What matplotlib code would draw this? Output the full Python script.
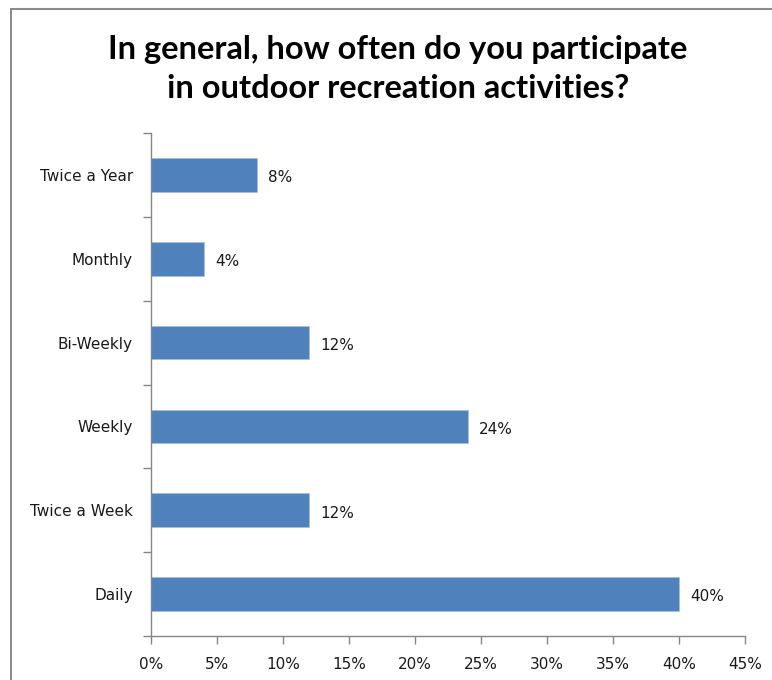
import matplotlib.pyplot as plt
from matplotlib.patches import Rectangle

# Survey responses, bottom to top
categories = ['Daily', 'Twice a Week', 'Weekly', 'Bi-Weekly', 'Monthly', 'Twice a Year']
percentages = [40, 12, 24, 12, 4, 8]
x_ticks = [0, 5, 10, 15, 20, 25, 30, 35, 40, 45]

bar_color = '#4F81BD'
axis_color = '#868686'
text_color = '#1a1a1a'

fig = plt.figure(figsize=(7.72, 6.8), dpi=100)
W, H = 772, 680

# grey chart frame
fig.patches.append(Rectangle((11 / W, -0.1), 1.2, 1 - 9 / H + 0.1,
                             transform=fig.transFigure, fill=False,
                             edgecolor='#8c8c8c', linewidth=1.5))

ax = fig.add_axes([151 / W, 1 - 636 / H, (745 - 151) / W, (636 - 133) / H])

y = range(len(categories))
bars = ax.barh(y, percentages, height=0.4, color=bar_color,
               edgecolor='#a7bfde', linewidth=0.6)

# value labels just right of each bar
for yi, v in zip(y, percentages):
    ax.annotate(f'{v}%', xy=(v, yi), xytext=(8, -2), textcoords='offset points',
                va='center', ha='left', fontsize=11, color=text_color,
                family='DejaVu Sans')

ax.set_xlim(0, 45)
ax.set_ylim(-0.5, len(categories) - 0.5)
ax.set_xticks(x_ticks)
ax.set_xticklabels([f'{t}%' for t in x_ticks])
ax.set_yticks(list(y))
ax.set_yticklabels(categories)
ax.set_yticks([i - 0.5 for i in range(len(categories) + 1)], minor=True)

ax.tick_params(axis='y', which='major', length=0, pad=13, labelsize=11,
               labelcolor=text_color)
ax.tick_params(axis='y', which='minor', length=6, width=1, color=axis_color,
               direction='out')
ax.tick_params(axis='x', length=6, width=1, color=axis_color, direction='out',
               labelsize=11, labelcolor=text_color, pad=9)

for side in ['top', 'right']:
    ax.spines[side].set_visible(False)
for side in ['left', 'bottom']:
    ax.spines[side].set_color(axis_color)
    ax.spines[side].set_linewidth(1)

fig.text(398 / W, 1 - 49 / H, 'In general, how often do you participate',
         ha='center', va='center', fontsize=23.5, fontweight='bold',
         family='Lato', color='black')
fig.text(398 / W, 1 - 89 / H, 'in outdoor recreation activities?',
         ha='center', va='center', fontsize=23.5, fontweight='bold',
         family='Lato', color='black')

fig.savefig('out.png', dpi=100)
